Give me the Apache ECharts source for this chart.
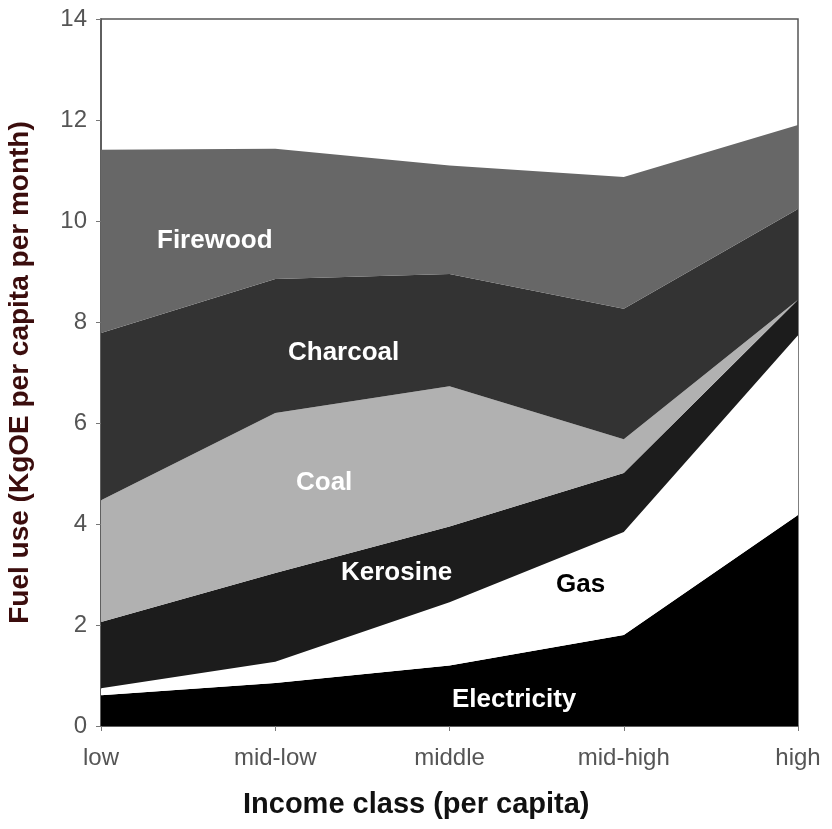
<!DOCTYPE html>
<html>
<head>
<meta charset="utf-8">
<script src="https://cdn.jsdelivr.net/npm/echarts@6/dist/echarts.min.js"></script>
<style>
  html, body { margin: 0; padding: 0; background: #fff; }
  #chart { width: 832px; height: 829px; }
</style>
</head>
<body>
<div id="chart"></div>
<script>
// income classes
var categories = ['low', 'mid-low', 'middle', 'mid-high', 'high'];
var yTicks = [0, 2, 4, 6, 8, 10, 12, 14];

// fuel use per fuel (KgOE per capita per month), stacked bottom to top
var electricity = [0.61, 0.85, 1.20, 1.80, 4.18];
var gas         = [0.14, 0.42, 1.25, 2.04, 3.56];
var kerosine    = [1.31, 1.76, 1.50, 1.17, 0.70];
var coal        = [2.41, 3.17, 2.78, 0.67, 0.00];
var charcoal    = [3.31, 2.65, 2.22, 2.58, 1.80];
var firewood    = [3.63, 2.58, 2.15, 2.61, 1.66];

var fuels = [
    ['Electricity', electricity, '#000000'],
    ['Gas', gas, '#ffffff'],
    ['Kerosine', kerosine, '#1c1c1c'],
    ['Coal', coal, '#b1b1b1'],
    ['Charcoal', charcoal, '#333333'],
    ['Firewood', firewood, '#676767']
];

(function () {
    var myChart = echarts.init(document.getElementById('chart'));
    var font = 'Liberation Sans, Arial, sans-serif';

    var series = fuels.map(function (f) {
        return {
            name: f[0],
            type: 'line',
            stack: 'fuel',
            data: f[1],
            symbol: 'none',
            lineStyle: { width: 0 },
            areaStyle: { color: f[2], opacity: 1 },
            silent: true
        };
    });

    // text labels inside the bands
    function lbl(x, y, text, color) {
        return {
            type: 'text', left: x, top: y, z: 100,
            style: { text: text, fill: color, font: 'bold 26px ' + font }
        };
    }

    var option = {
        animation: false,
        title: {
            text: 'Income class (per capita)',
            left: 243, top: 790, padding: 0,
            textStyle: { color: '#111', fontSize: 29, fontWeight: 'bold', fontFamily: font }
        },
        grid: { left: 101, right: 34, top: 19, bottom: 103, outerBoundsMode: 'none',
                show: true, borderColor: '#555', borderWidth: 1.5 },
        xAxis: {
            type: 'category',
            data: categories,
            boundaryGap: false,
            axisLine: { lineStyle: { color: '#555', width: 1.5 } },
            axisTick: { alignWithLabel: true, length: 5, lineStyle: { color: '#777' } },
            axisLabel: { color: '#555', fontSize: 24, fontFamily: font, margin: 20, showMaxLabel: true, showMinLabel: true }
        },
        yAxis: {
            type: 'value',
            min: yTicks[0],
            max: yTicks[yTicks.length - 1],
            interval: 2,
            splitLine: { show: false },
            axisLine: { show: true, lineStyle: { color: '#555', width: 1.5 } },
            axisTick: { show: true, length: 5, lineStyle: { color: '#777' } },
            axisLabel: { color: '#555', fontSize: 24, fontFamily: font, margin: 14 },
            name: 'Fuel use (KgOE per capita per month)',
            nameLocation: 'middle',
            nameGap: 67,
            nameTextStyle: { color: '#3b0d0d', fontSize: 28, fontWeight: 'bold', fontFamily: font }
        },
        graphic: [
            lbl(157, 228, 'Firewood', '#fff'),
            lbl(288, 340, 'Charcoal', '#fff'),
            lbl(296, 470, 'Coal', '#fff'),
            lbl(341, 560, 'Kerosine', '#fff'),
            lbl(556, 572, 'Gas', '#000'),
            lbl(452, 687, 'Electricity', '#fff')
        ],
        series: series
    };
    myChart.setOption(option);
})();
</script>
</body>
</html>
